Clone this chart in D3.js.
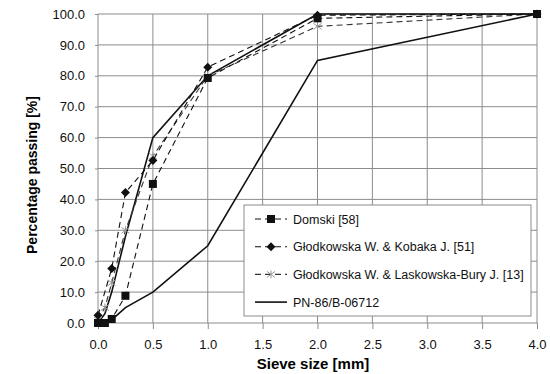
<!DOCTYPE html>
<html>
<head>
<meta charset="utf-8">
<script src="https://cdn.jsdelivr.net/npm/d3@7"></script>
<style>
  body { margin: 0; background: #fff; }
  svg { font-family: "Liberation Sans", Arial, sans-serif; }
  .grid line { stroke: #8c8c8c; stroke-width: 1; }
  .axis path { display: none; }
  .axis line { stroke: #8c8c8c; }
  .axis text { font-size: 13px; fill: #111; }
</style>
</head>
<body>
<div id="svg-container"></div>
<script>
// data
const sieve = [0, 0.063, 0.125, 0.25, 0.5, 1.0, 2.0, 4.0];
const domski = [0, 0, 1.3, 8.8, 45, 79.3, 98.6, 100];
const kobaka = [2.5, null, 17.6, 42.2, 52.6, 82.8, 99.6, 100];
const laskowska = [1, 5, 13, 30, 54, 80, 96, 100];
const pnUpper = [0, 3, 10, 28, 60, 80, 100, 100];
const pnLower = [null, null, 1, 5, 10, 25, 85, 100];

const xTicks = [0, 0.5, 1, 1.5, 2, 2.5, 3, 3.5, 4];
const yTicks = [0, 10, 20, 30, 40, 50, 60, 70, 80, 90, 100];

const width = 550, height = 374;
const margin = { top: 14, right: 13, bottom: 51, left: 98 };

const svg = d3.select("#svg-container").append("svg")
  .attr("width", width).attr("height", height);

const xScale = d3.scaleLinear().domain([0, 4]).range([margin.left, width - margin.right]);
const yScale = d3.scaleLinear().domain([0, 100]).range([height - margin.bottom, margin.top]);

// grid
svg.append("g").attr("class", "grid")
  .selectAll("line.v").data(xTicks).enter().append("line")
  .attr("x1", d => xScale(d)).attr("x2", d => xScale(d))
  .attr("y1", yScale(0)).attr("y2", yScale(100));
svg.append("g").attr("class", "grid")
  .selectAll("line.h").data(yTicks).enter().append("line")
  .attr("x1", xScale(0)).attr("x2", xScale(4))
  .attr("y1", d => yScale(d)).attr("y2", d => yScale(d));

// axes
svg.append("g").attr("class", "axis")
  .attr("transform", `translate(0,${yScale(0)})`)
  .call(d3.axisBottom(xScale).tickValues(xTicks).tickFormat(d3.format(".1f")).tickSize(6).tickPadding(11));
svg.append("g").attr("class", "axis")
  .attr("transform", `translate(${xScale(0)},0)`)
  .call(d3.axisLeft(yScale).tickValues(yTicks).tickFormat(d3.format(".1f")).tickSize(3).tickPadding(10));

svg.append("text")
  .attr("x", 313).attr("y", 369)
  .attr("text-anchor", "middle")
  .style("font-size", "15px").style("font-weight", "bold")
  .text("Sieve size [mm]");

svg.append("text")
  .attr("transform", `translate(37,175) rotate(-90)`)
  .attr("text-anchor", "middle")
  .style("font-size", "14px").style("font-weight", "bold")
  .text("Percentage passing  [%]");

// series
const toPts = (vals) => sieve.map((s, i) => ({ x: s, y: vals[i] })).filter(d => d.y !== null);
const line = d3.line().x(d => xScale(d.x)).y(d => yScale(d.y));

const series = [
  { name: "Domski [58]", vals: domski, color: "#111", dash: "6,4", marker: "square" },
  { name: "Głodkowska W. & Kobaka J. [51]", vals: kobaka, color: "#111", dash: "6,4", marker: "diamond" },
  { name: "Głodkowska W. & Laskowska-Bury J. [13]", vals: laskowska, color: "#333", dash: "6,4", marker: "cross" }
];

const drawMarker = (g, type, x, y, color) => {
  if (type === "square") {
    g.append("rect").attr("x", x - 4).attr("y", y - 4).attr("width", 8).attr("height", 8).attr("fill", color);
  } else if (type === "diamond") {
    g.append("path").attr("d", `M${x},${y - 4.5}L${x + 4.5},${y}L${x},${y + 4.5}L${x - 4.5},${y}Z`).attr("fill", color);
  } else if (type === "cross") {
    g.append("path").attr("d", `M${x - 4},${y - 3}L${x + 4},${y + 3}M${x - 4},${y + 3}L${x + 4},${y - 3}M${x},${y - 4}L${x},${y + 4}`)
      .attr("stroke", "#999").attr("stroke-width", 1).attr("fill", "none");
  }
};

// PN-86 envelope
[pnUpper, pnLower].forEach(v => {
  svg.append("path").datum(toPts(v))
    .attr("fill", "none").attr("stroke", "#111").attr("stroke-width", 1.6)
    .attr("d", line);
});

series.slice().reverse().forEach(s => {
  const pts = toPts(s.vals);
  svg.append("path").datum(pts)
    .attr("fill", "none").attr("stroke", s.color).attr("stroke-width", 1.1)
    .attr("stroke-dasharray", s.dash)
    .attr("d", line);
  const g = svg.append("g");
  pts.forEach(d => drawMarker(g, s.marker, xScale(d.x), yScale(d.y), s.color));
});

// legend
const lg = svg.append("g");
lg.append("rect").attr("x", 244).attr("y", 205).attr("width", 287).attr("height", 111)
  .attr("fill", "#fff").attr("stroke", "#8c8c8c");
const legendItems = series.concat([{ name: "PN-86/B-06712", color: "#111", dash: null, marker: null }]);
legendItems.forEach((s, i) => {
  const y = 219 + i * 27.7;
  lg.append("line").attr("x1", 255).attr("x2", 287).attr("y1", y).attr("y2", y)
    .attr("stroke", s.color).attr("stroke-width", s.dash ? 1.1 : 1.6)
    .attr("stroke-dasharray", s.dash ? "6,4" : null);
  if (s.marker) drawMarker(lg, s.marker, 271, y, s.color);
  lg.append("text").attr("x", 293).attr("y", y + 4.5)
    .style("font-size", "12.5px").attr("fill", "#111").text(s.name);
});
</script>
</body>
</html>
